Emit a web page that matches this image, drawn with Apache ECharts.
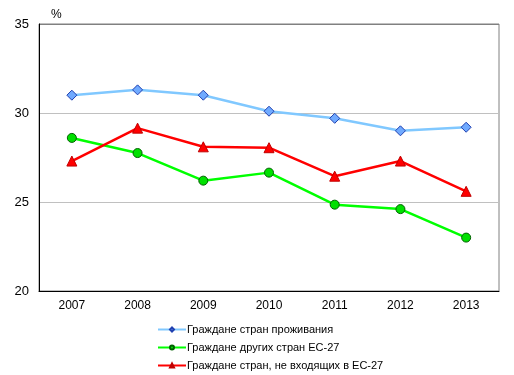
<!DOCTYPE html>
<html><head><meta charset="utf-8">
<script src="https://cdn.jsdelivr.net/npm/echarts@6/dist/echarts.min.js"></script>
<style>html,body{margin:0;padding:0;background:#fff}#c{width:514px;height:375px}</style>
</head><body><div id="c"></div>
<script>
const years = ['2007','2008','2009','2010','2011','2012','2013'];
const seriesNames = ['Граждане стран проживания','Граждане других стран ЕС-27','Граждане стран, не входящих в ЕС-27'];
const residents = [31.0, 31.3, 31.0, 30.1, 29.7, 29.0, 29.2];
const otherEU = [28.6, 27.75, 26.2, 26.65, 24.85, 24.6, 23.0];
const nonEU = [27.3, 29.15, 28.1, 28.05, 26.45, 27.3, 25.6];
const yTicks = [20, 25, 30, 35];

const chart = echarts.init(document.getElementById('c'));
const font = 'Liberation Sans, Arial, sans-serif';
chart.setOption({
  animation: false,
  backgroundColor: '#fff',
  grid: {left: 39, right: 15, top: 24, bottom: 84, show: true, borderColor: '#808080', borderWidth: 1, backgroundColor: 'transparent'},
  legend: {
    orient: 'vertical', left: 157, top: 324, padding: 0, itemGap: 7, itemWidth: 28, itemHeight: 5,
    textStyle: {fontFamily: font, fontSize: 11, color: '#000', padding: [0,0,0,-4]},
    data: seriesNames
  },
  xAxis: {
    type: 'category', data: years, boundaryGap: true,
    axisLine: {lineStyle: {color: '#000', width: 1}},
    axisTick: {show: false},
    axisLabel: {fontFamily: font, fontSize: 12, color: '#000', margin: 9}
  },
  yAxis: {
    type: 'value', min: yTicks[0], max: yTicks[yTicks.length-1], interval: 5,
    name: '%', nameLocation: 'end', nameGap: 3,
    nameTextStyle: {fontFamily: font, fontSize: 12, color: '#000', align: 'left', padding: [0,0,0,12]},
    axisLine: {show: true, lineStyle: {color: '#000', width: 1}},
    axisTick: {show: false},
    axisLabel: {fontFamily: font, fontSize: 13, color: '#000', margin: 10},
    splitLine: {show: true, lineStyle: {color: ['#c0c0c0','#c0c0c0','#c0c0c0','#808080'], width: 1}}
  },
  series: [
    {name: seriesNames[0], type: 'line', data: residents, symbol: 'diamond', symbolSize: 10,
     lineStyle: {color: '#80c8ff', width: 2.5}, itemStyle: {color: '#70aaff', borderColor: '#2040b0', borderWidth: 1}},
    {name: seriesNames[1], type: 'line', data: otherEU, symbol: 'circle', symbolSize: 9,
     lineStyle: {color: '#00ff00', width: 2.5}, itemStyle: {color: '#00e000', borderColor: '#006000', borderWidth: 1}},
    {name: seriesNames[2], type: 'line', data: nonEU, symbol: 'triangle', symbolSize: 10,
     lineStyle: {color: '#ff0000', width: 2.5}, itemStyle: {color: '#ff0000', borderColor: '#c00000', borderWidth: 1}}
  ]
});
</script></body></html>
